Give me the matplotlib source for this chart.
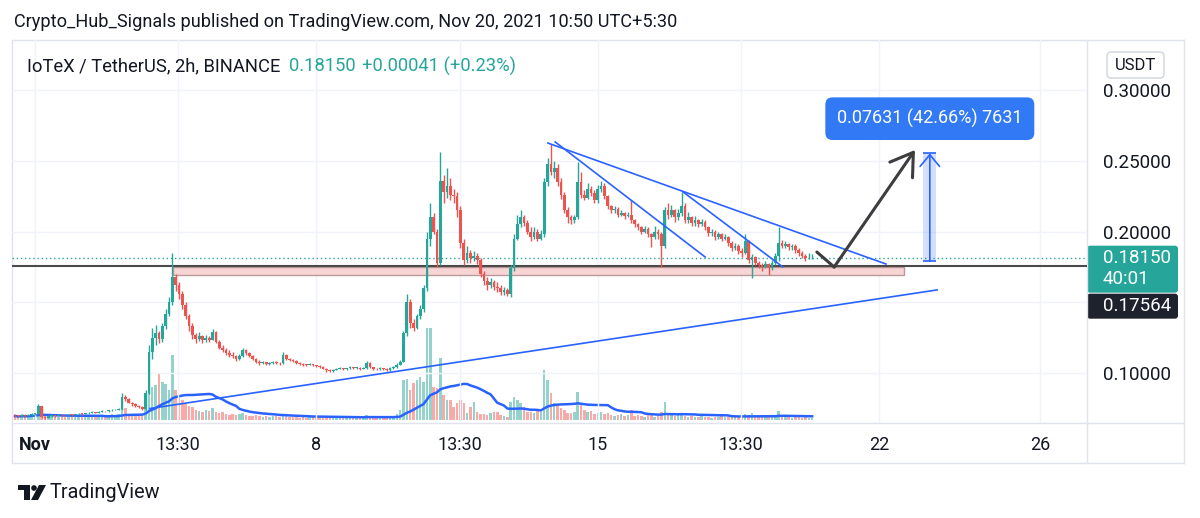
import matplotlib
matplotlib.use("Agg")
import matplotlib.pyplot as plt
import matplotlib.patches as mpatches
import matplotlib.transforms as mtransforms
from matplotlib.lines import Line2D
import numpy as np
import pandas as pd

plt.rcParams['font.family'] = ['Roboto', 'DejaVu Sans']

UP = '#26a69a'
DOWN = '#ef5350'
BLUE = '#2962ff'
TXT = '#131722'
GRID = '#f0f3fa'
FRAME = '#e0e3eb'

# 2h candles, day 0 = Nov 1 00:00, first candle Oct 31 12:00
t_start = -0.5
first_open = 0.0705
closes = [
    0.0700, 0.0695, 0.0705, 0.0698, 0.0702, 0.0710,
    0.0712, 0.0765, 0.0690, 0.0685, 0.0695, 0.0700, 0.0698, 0.0705, 0.0702, 0.0700, 0.0706, 0.0703,
    0.0708, 0.0712, 0.0710, 0.0715, 0.0718, 0.0722, 0.0720, 0.0726, 0.0730, 0.0728, 0.0735, 0.0738,
    0.0742, 0.0745, 0.0830, 0.0815, 0.0790, 0.0778, 0.0770, 0.0760, 0.0745, 0.0860, 0.1150, 0.1250,
    0.1280, 0.1240, 0.1330, 0.1420, 0.1500, 0.1680, 0.1620, 0.1560, 0.1480, 0.1400, 0.1330, 0.1270,
    0.1240, 0.1260, 0.1230, 0.1250, 0.1235, 0.1290, 0.1220, 0.1180, 0.1160, 0.1140, 0.1130, 0.1120,
    0.1100, 0.1120, 0.1160, 0.1140, 0.1120, 0.1100, 0.1080, 0.1070, 0.1075, 0.1065, 0.1070, 0.1078,
    0.1072, 0.1068, 0.1130, 0.1100, 0.1090, 0.1085, 0.1070, 0.1062, 0.1060, 0.1058, 0.1062, 0.1055,
    0.1050, 0.1045, 0.1030, 0.1020, 0.1015, 0.1022, 0.1030, 0.1035, 0.1028, 0.1032, 0.1040, 0.1035,
    0.1038, 0.1030, 0.1035, 0.1070, 0.1040, 0.1030, 0.1025, 0.1035, 0.1028, 0.1020, 0.1032, 0.1040,
    0.1060, 0.1080, 0.1280, 0.1500, 0.1350, 0.1320, 0.1400, 0.1450, 0.1600, 0.1950, 0.2100, 0.2000,
    0.1780, 0.2360, 0.2280, 0.2320, 0.2260, 0.2250, 0.2150, 0.1920, 0.1800, 0.1850, 0.1810, 0.1830,
    0.1800, 0.1700, 0.1650, 0.1620, 0.1640, 0.1610, 0.1600, 0.1570, 0.1590, 0.1560, 0.1740, 0.1950,
    0.2050, 0.2100, 0.2060, 0.2000, 0.1960, 0.2000, 0.1950, 0.1980, 0.2350, 0.2480, 0.2420, 0.2450,
    0.2350, 0.2260, 0.2150, 0.2100, 0.2080, 0.2100, 0.2350, 0.2260, 0.2240, 0.2300, 0.2270, 0.2220,
    0.2300, 0.2320, 0.2250, 0.2180, 0.2150, 0.2160, 0.2120, 0.2130, 0.2110, 0.2120, 0.2080, 0.2050,
    0.2030, 0.2000, 0.2020, 0.1980, 0.1960, 0.2000, 0.1980, 0.1900, 0.2150, 0.2120, 0.2150, 0.2100,
    0.2130, 0.2180, 0.2080, 0.2100, 0.2060, 0.2080, 0.2050, 0.2070, 0.2030, 0.1990, 0.2000, 0.1960,
    0.1980, 0.1950, 0.1960, 0.1920, 0.1880, 0.1900, 0.1860, 0.1850, 0.1930, 0.1800, 0.1820, 0.1780,
    0.1760, 0.1750, 0.1770, 0.1740, 0.1780, 0.1830, 0.1920, 0.1900, 0.1910, 0.1890, 0.1900, 0.1870,
    0.1850, 0.1830, 0.1810, 0.1811, 0.1815,
]
highs = [
    0.0712, 0.0706, 0.0712, 0.0708, 0.0708, 0.0716,
    0.0718, 0.0780, 0.0770, 0.0696, 0.0700, 0.0706, 0.0705, 0.0710, 0.0708, 0.0706, 0.0710, 0.0710,
    0.0712, 0.0716, 0.0716, 0.0720, 0.0722, 0.0728, 0.0726, 0.0730, 0.0735, 0.0734, 0.0740, 0.0744,
    0.0748, 0.0752, 0.0860, 0.0845, 0.0820, 0.0795, 0.0785, 0.0775, 0.0765, 0.0880, 0.1200, 0.1320,
    0.1340, 0.1300, 0.1350, 0.1450, 0.1540, 0.1850, 0.1700, 0.1640, 0.1580, 0.1500, 0.1420, 0.1350,
    0.1280, 0.1290, 0.1270, 0.1270, 0.1260, 0.1310, 0.1295, 0.1230, 0.1200, 0.1175, 0.1160, 0.1150,
    0.1130, 0.1135, 0.1180, 0.1170, 0.1145, 0.1125, 0.1105, 0.1090, 0.1085, 0.1080, 0.1080, 0.1088,
    0.1085, 0.1080, 0.1150, 0.1135, 0.1105, 0.1098, 0.1090, 0.1075, 0.1068, 0.1066, 0.1068, 0.1065,
    0.1060, 0.1055, 0.1048, 0.1035, 0.1025, 0.1030, 0.1038, 0.1042, 0.1038, 0.1038, 0.1046, 0.1044,
    0.1045, 0.1042, 0.1042, 0.1085, 0.1075, 0.1045, 0.1036, 0.1042, 0.1038, 0.1032, 0.1040, 0.1048,
    0.1068, 0.1095, 0.1300, 0.1560, 0.1520, 0.1380, 0.1420, 0.1480, 0.1620, 0.2000, 0.2200, 0.2130,
    0.2020, 0.2560, 0.2400, 0.2450, 0.2380, 0.2300, 0.2280, 0.2180, 0.1950, 0.1900, 0.1870, 0.1860,
    0.1850, 0.1810, 0.1720, 0.1680, 0.1670, 0.1660, 0.1640, 0.1620, 0.1610, 0.1600, 0.1760, 0.1980,
    0.2120, 0.2150, 0.2120, 0.2080, 0.2030, 0.2030, 0.2020, 0.2010, 0.2380, 0.2520, 0.2620, 0.2500,
    0.2480, 0.2380, 0.2280, 0.2170, 0.2120, 0.2120, 0.2490, 0.2420, 0.2290, 0.2340, 0.2320, 0.2290,
    0.2330, 0.2360, 0.2340, 0.2260, 0.2190, 0.2180, 0.2170, 0.2150, 0.2140, 0.2140, 0.2220, 0.2090,
    0.2060, 0.2040, 0.2040, 0.2030, 0.1990, 0.2040, 0.2020, 0.2000, 0.2170, 0.2200, 0.2190, 0.2160,
    0.2160, 0.2280, 0.2200, 0.2140, 0.2110, 0.2110, 0.2090, 0.2090, 0.2080, 0.2040, 0.2020, 0.2010,
    0.2000, 0.1990, 0.1980, 0.1970, 0.1930, 0.1920, 0.1910, 0.1880, 0.1980, 0.1940, 0.1840, 0.1830,
    0.1790, 0.1780, 0.1790, 0.1780, 0.1800, 0.1850, 0.2030, 0.1940, 0.1930, 0.1920, 0.1915, 0.1910,
    0.1880, 0.1860, 0.1840, 0.1845, 0.1840,
]
lows = [
    0.0692, 0.0688, 0.0690, 0.0692, 0.0694, 0.0698,
    0.0704, 0.0708, 0.0684, 0.0678, 0.0680, 0.0690, 0.0692, 0.0694, 0.0698, 0.0695, 0.0696, 0.0698,
    0.0700, 0.0704, 0.0705, 0.0708, 0.0712, 0.0714, 0.0715, 0.0717, 0.0722, 0.0723, 0.0725, 0.0730,
    0.0735, 0.0738, 0.0740, 0.0805, 0.0785, 0.0770, 0.0762, 0.0752, 0.0738, 0.0740, 0.0850, 0.1100,
    0.1200, 0.1210, 0.1220, 0.1310, 0.1400, 0.1480, 0.1580, 0.1520, 0.1450, 0.1380, 0.1300, 0.1240,
    0.1210, 0.1225, 0.1215, 0.1220, 0.1220, 0.1230, 0.1210, 0.1170, 0.1150, 0.1130, 0.1115, 0.1105,
    0.1085, 0.1090, 0.1110, 0.1130, 0.1110, 0.1090, 0.1070, 0.1060, 0.1062, 0.1055, 0.1058, 0.1065,
    0.1062, 0.1060, 0.1065, 0.1095, 0.1082, 0.1078, 0.1065, 0.1055, 0.1052, 0.1050, 0.1054, 0.1048,
    0.1042, 0.1038, 0.1025, 0.1010, 0.1005, 0.1010, 0.1018, 0.1025, 0.1022, 0.1024, 0.1028, 0.1030,
    0.1030, 0.1024, 0.1026, 0.1030, 0.1035, 0.1024, 0.1018, 0.1020, 0.1020, 0.1012, 0.1016, 0.1028,
    0.1035, 0.1055, 0.1075, 0.1260, 0.1320, 0.1300, 0.1310, 0.1380, 0.1430, 0.1580, 0.1900, 0.1980,
    0.1750, 0.1760, 0.2200, 0.2240, 0.2220, 0.2200, 0.2100, 0.1880, 0.1760, 0.1780, 0.1780, 0.1790,
    0.1770, 0.1680, 0.1620, 0.1590, 0.1600, 0.1590, 0.1575, 0.1550, 0.1550, 0.1545, 0.1540, 0.1720,
    0.1940, 0.2030, 0.2040, 0.1980, 0.1930, 0.1950, 0.1930, 0.1940, 0.1960, 0.2320, 0.2400, 0.2380,
    0.2320, 0.2230, 0.2130, 0.2060, 0.2050, 0.2060, 0.2090, 0.2240, 0.2220, 0.2230, 0.2250, 0.2200,
    0.2200, 0.2280, 0.2230, 0.2160, 0.2130, 0.2130, 0.2100, 0.2110, 0.2090, 0.2100, 0.2060, 0.2030,
    0.2010, 0.1980, 0.1990, 0.1960, 0.1890, 0.1950, 0.1950, 0.1750, 0.1880, 0.2090, 0.2100, 0.2070,
    0.2080, 0.2110, 0.2060, 0.2060, 0.2040, 0.2040, 0.2030, 0.2040, 0.2010, 0.1970, 0.1970, 0.1940,
    0.1950, 0.1930, 0.1940, 0.1900, 0.1860, 0.1870, 0.1840, 0.1820, 0.1840, 0.1780, 0.1670, 0.1760,
    0.1740, 0.1720, 0.1740, 0.1690, 0.1730, 0.1760, 0.1790, 0.1880, 0.1880, 0.1870, 0.1870, 0.1850,
    0.1830, 0.1810, 0.1795, 0.1805, 0.1805,
]
volumes = [
    4, 3, 5, 3, 4, 6,
    5, 9, 8, 4, 3, 4, 3, 3, 4, 3, 3, 4,
    3, 4, 3, 4, 5, 4, 3, 5, 4, 3, 5, 6,
    5, 6, 14, 12, 6, 5, 4, 4, 6, 23, 53, 33,
    35, 47, 38, 36, 30, 65, 30, 22, 20, 16, 14, 13,
    10, 9, 8, 10, 9, 12, 8, 7, 8, 6, 5, 6,
    5, 6, 7, 5, 4, 4, 5, 4, 3, 4, 3, 4,
    4, 3, 6, 4, 3, 3, 3, 2, 3, 2, 3, 3,
    3, 3, 4, 3, 2, 3, 3, 2, 3, 2, 3, 3,
    2, 3, 3, 5, 3, 2, 3, 3, 2, 3, 3, 4,
    6, 10, 40, 41, 30, 37, 40, 43, 38, 92, 92, 33,
    32, 62, 25, 20, 20, 13, 17, 20, 17, 7, 13, 18,
    8, 6, 6, 5, 7, 8, 8, 5, 4, 3, 18, 23,
    20, 17, 13, 8, 8, 7, 9, 8, 50, 40, 27, 17,
    15, 12, 10, 7, 7, 8, 28, 15, 10, 8, 9, 6,
    7, 8, 6, 7, 5, 4, 5, 6, 4, 5, 10, 4,
    5, 4, 3, 5, 6, 3, 4, 8, 18, 6, 5, 4,
    5, 7, 4, 3, 4, 3, 3, 4, 3, 3, 2, 3,
    3, 4, 3, 3, 4, 3, 3, 4, 6, 5, 7, 4,
    3, 4, 3, 5, 3, 4, 9, 4, 3, 3, 2, 3,
    3, 2, 3, 2, 2,
]

tick_days = [0, 3.5625, 7, 10.5625, 14, 17.5625, 21, 25]
tick_labels = ['Nov', '13:30', '8', '13:30', '15', '13:30', '22', '26']
price_ticks = [0.10, 0.15, 0.20, 0.25, 0.30]
price_labels = ['0.10000', '', '0.20000', '0.25000', '0.30000']

# drawings (day, price)
support = 0.17564
zone_days = (3.43, 21.62)
zone_prices = (0.1695, 0.1750)
rising_line = ([2.86, 22.44], [0.0749, 0.1587])
fall_long = ([12.76, 21.17], [0.2625, 0.1770])
fall_steep = ([12.94, 16.67], [0.2633, 0.1820])
fall_short = ([16.12, 18.60], [0.2280, 0.1750])
arrow_days = [19.45, 19.88, 21.89]
arrow_prices = [0.1855, 0.1749, 0.2576]
measure_day = 22.26
measure_lo, measure_hi = 0.17888, 0.25519

W, H = 1200, 518
fig = plt.figure(figsize=(12, 5.18), dpi=100)
px = mtransforms.Affine2D().scale(1 / W, -1 / H).translate(0, 1) + fig.transFigure

ax = fig.add_axes([12 / W, (H - 423) / H, 1075 / W, 383 / H])
vax = ax.twinx()
ax.set_zorder(2)
ax.patch.set_visible(False)
vax.set_zorder(1)

ax.set_xlim(-0.572, 26.17)
ax.set_ylim(0.06466, 0.33534)
vax.set_ylim(-3, 380)

n = len(closes)
t = t_start + np.arange(n) / 12
c = np.array(closes)
o = np.array([first_open] + closes[:-1])
up = c >= o
cols = np.where(up, UP, DOWN)
vcols = np.where(up, '#93d3cc', '#f7aaa8')

# volume + MA
vax.bar(t, volumes, width=0.062, color=vcols, linewidth=0)
vol_ma = pd.Series(volumes).rolling(20, min_periods=1).mean()
vax.plot(t, vol_ma, color=BLUE, lw=1.8)
vax.set_yticks([])
vax.yaxis.set_visible(False)

# zone and horizontal lines
ax.add_patch(mpatches.Rectangle((zone_days[0], zone_prices[0]), zone_days[1] - zone_days[0],
                                zone_prices[1] - zone_prices[0], facecolor='#f9d4d4',
                                edgecolor='#b99a9a', lw=1, zorder=1))
ax.axhline(support, color='#4a4a4a', lw=1.5, zorder=2)
ax.axhline(closes[-1], color=UP, lw=1, ls=(0, (1, 2)), zorder=2)

# candles
ax.vlines(t, lows, highs, colors=cols, lw=1.0, zorder=3)
ax.bar(t, np.maximum(np.abs(c - o), 0.0004), bottom=np.minimum(o, c), width=0.068,
       color=cols, linewidth=0, zorder=3)

# trend lines
for xs, ys in [rising_line, fall_long, fall_steep, fall_short]:
    ax.plot(xs, ys, color=BLUE, lw=1.2, zorder=4)

# projection arrow
ax.plot(arrow_days[:2], arrow_prices[:2], color='#3d3d3d', lw=2.2, zorder=5,
        solid_capstyle='round')
ax.annotate('', xy=(arrow_days[2], arrow_prices[2]), xytext=(arrow_days[1], arrow_prices[1]),
            arrowprops=dict(arrowstyle='->,head_length=0.7,head_width=0.45', color='#3d3d3d',
                            lw=2.2, mutation_scale=22, shrinkA=0, shrinkB=0), zorder=5)

# measure tool
mw = 0.32
ax.add_patch(mpatches.Rectangle((measure_day - mw / 2, measure_lo), mw, measure_hi - measure_lo,
                                facecolor=BLUE, alpha=0.2, edgecolor='none', zorder=4))
ax.hlines([measure_lo, measure_hi], measure_day - mw / 2, measure_day + mw / 2, color=BLUE, lw=1.2, zorder=5)
ax.annotate('', xy=(measure_day, measure_hi), xytext=(measure_day, measure_lo),
            arrowprops=dict(arrowstyle='->,head_length=0.6,head_width=0.5', color=BLUE, lw=1.2,
                            mutation_scale=14, shrinkA=0, shrinkB=0), zorder=5)
diff = measure_hi - measure_lo
ax.annotate(f'{diff:.5f} ({diff / measure_lo * 100:.2f}%) {round(diff * 1e5)}',
            xy=(measure_day, measure_hi), xytext=(0, 25), textcoords='offset points',
            ha='center', va='center', color='white', fontsize=13, zorder=6,
            bbox=dict(boxstyle='round,pad=0.65,rounding_size=0.4', fc='#3179f5', ec='none'))

# axes styling
for s in ax.spines.values():
    s.set_visible(False)
for s in vax.spines.values():
    s.set_visible(False)
ax.yaxis.tick_right()
ax.set_yticks(price_ticks)
ax.set_yticklabels(price_labels)
ax.set_xticks(tick_days)
ax.set_xticklabels(tick_labels)
ax.tick_params(axis='y', length=0, pad=11.5, labelsize=13.5, labelcolor=TXT)
ax.tick_params(axis='x', length=0, pad=9, labelsize=13, labelcolor=TXT)
ax.get_xticklabels()[0].set_fontweight('bold')
ax.grid(color=GRID, lw=1)
ax.set_axisbelow(True)

# frame
for x0, y0, x1, y1 in [(12, 40, 1184, 40), (12, 40, 12, 463), (1184, 40, 1184, 463),
                       (12, 463, 1184, 463), (12, 423, 1184, 423), (1087, 40, 1087, 463)]:
    fig.add_artist(Line2D([x0, x1], [y0, y1], transform=px, color=FRAME, lw=1))


def ypx(p):
    return H - ax.transData.transform((0, p))[1] * H / fig.bbox.height


# price labels on the axis
yl = ypx(closes[-1])
fig.add_artist(mpatches.FancyBboxPatch((1087, yl - 12), 91, 47, boxstyle='round,pad=0,rounding_size=3',
                                       transform=px, fc=UP, ec='none'))
fig.text(1103, yl, f'{closes[-1]:.5f}', transform=px, color='white', fontsize=13.5, va='center')
fig.text(1103, yl + 21, '40:01', transform=px, color='white', fontsize=13.5, va='center')
fig.add_artist(mpatches.FancyBboxPatch((1087, yl + 36), 91, 25, boxstyle='round,pad=0,rounding_size=3',
                                       transform=px, fc='#1e222d', ec='none'))
fig.text(1103, yl + 48.5, f'{support:.5f}', transform=px, color='white', fontsize=13.5, va='center')

fig.add_artist(mpatches.FancyBboxPatch((1107, 52), 57, 26, boxstyle='round,pad=0,rounding_size=4',
                                       transform=px, fc='white', ec='#d1d4dc', lw=1))
fig.text(1135.5, 65, 'USDT', transform=px, color=TXT, fontsize=12, ha='center', va='center')

# header
fig.text(14, 22, 'Crypto_Hub_Signals published on TradingView.com, Nov 20, 2021 10:50 UTC+5:30',
         transform=px, color=TXT, fontsize=13.1, va='center')
fig.text(27, 66, 'IoTeX / TetherUS, 2h, BINANCE', transform=px, color=TXT, fontsize=13.2, va='center')
fig.text(289, 66, f'{closes[-1]:.5f}', transform=px, color=UP, fontsize=13.2, va='center')
fig.text(362, 66, '+0.00041 (+0.23%)', transform=px, color=UP, fontsize=13.2, va='center')

# logo
fig.add_artist(mpatches.Polygon([(18, 485), (30, 485), (30, 500), (24, 500), (24, 490), (18, 490)],
                                closed=True, transform=px, fc=TXT, ec='none'))
fig.add_artist(mpatches.Circle((34, 488), 2.8, transform=px, fc=TXT, ec='none'))
fig.add_artist(mpatches.Polygon([(39, 485), (46, 485), (38, 500), (31, 500)],
                                closed=True, transform=px, fc=TXT, ec='none'))
fig.text(50, 493, 'TradingView', transform=px, color=TXT, fontsize=14.3, va='center')

fig.savefig('out.png', dpi=100, facecolor='white')
